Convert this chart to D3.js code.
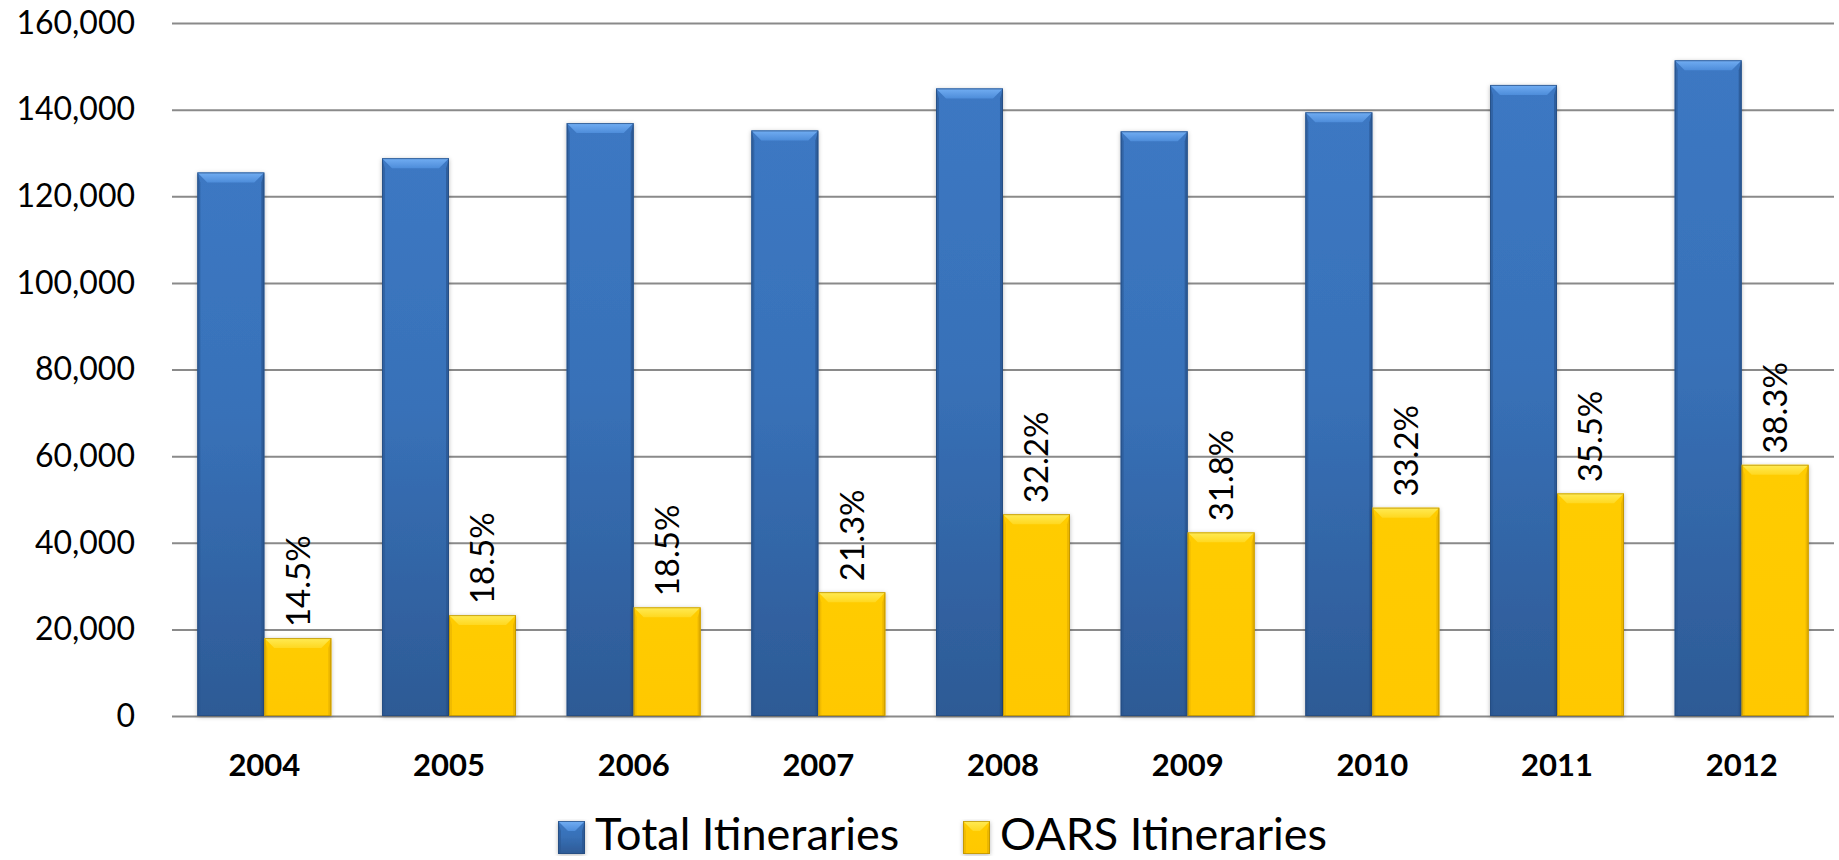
<!DOCTYPE html>
<html>
<head>
<meta charset="utf-8">
<script src="https://cdn.jsdelivr.net/npm/d3@7"></script>
<style>
  html, body { margin: 0; padding: 0; background: #ffffff; }
  svg { display: block; }
  text { font-family: Lato, "Open Sans", "Noto Sans", sans-serif; fill: #000; }
</style>
</head>
<body>
<svg id="chart" width="1839" height="860"></svg>
<script>
// ---- data ----
const years = ["2004", "2005", "2006", "2007", "2008", "2009", "2010", "2011", "2012"];
const totalItineraries = [125500, 128800, 136900, 135200, 144900, 135000, 139400, 145700, 151400];
const oarsItineraries  = [18000, 23300, 25100, 28600, 46600, 42400, 48100, 51400, 58000];
const oarsShareLabels  = ["14.5%", "18.5%", "18.5%", "21.3%", "32.2%", "31.8%", "33.2%", "35.5%", "38.3%"];
const yTickValues = [0, 20000, 40000, 60000, 80000, 100000, 120000, 140000, 160000];
const seriesNames = ["Total Itineraries", "OARS Itineraries"];

// ---- layout ----
const W = 1839, H = 860;
const plot = { left: 172, right: 1834, top: 23, bottom: 716 };

const svg = d3.select("#chart");
const defs = svg.append("defs");

function vGrad(id, stops) {
  const g = defs.append("linearGradient").attr("id", id)
    .attr("x1", 0).attr("y1", 0).attr("x2", 0).attr("y2", 1);
  stops.forEach(([o, c]) => g.append("stop").attr("offset", o).attr("stop-color", c));
}
vGrad("blueBody", [[0, "#3C78C3"], [0.45, "#3871B8"], [1, "#2D5A95"]]);
vGrad("blueTop",  [[0, "#72AEF3"], [1, "#4E8DDA"]]);
vGrad("goldBody", [[0, "#FFCC00"], [1, "#FFC800"]]);
vGrad("goldTop",  [[0, "#FFEB55"], [1, "#FFD820"]]);

const shadow = defs.append("filter").attr("id", "shadow")
  .attr("x", "-20%").attr("y", "-5%").attr("width", "140%").attr("height", "110%");
shadow.append("feDropShadow").attr("dx", 0).attr("dy", 1).attr("stdDeviation", 2)
  .attr("flood-color", "#000").attr("flood-opacity", 0.28);

const styles = {
  "Total Itineraries": { body: "url(#blueBody)", top: "url(#blueTop)", edge: "#24497A", side: "#2A5590" },
  "OARS Itineraries":  { body: "url(#goldBody)", top: "url(#goldTop)", edge: "#B38A00", side: "#E6B000" }
};

// ---- scales ----
const x = d3.scaleBand().domain(years).range([plot.left, plot.right])
  .paddingInner(0.2745).paddingOuter(0.13725);
const xs = d3.scaleBand().domain(seriesNames).range([0, x.bandwidth()]).padding(0);
const y = d3.scaleLinear().domain([0, 160000]).range([plot.bottom, plot.top]);

// ---- gridlines + y axis ----
const yAxis = d3.axisLeft(y).tickValues(yTickValues).tickFormat(d3.format(","))
  .tickSize(-(plot.right - plot.left)).tickPadding(37);
const gy = svg.append("g").attr("transform", `translate(${plot.left},0)`).call(yAxis);
gy.select(".domain").remove();
gy.selectAll(".tick line").attr("stroke", "#8A8A8A").attr("stroke-width", 2);
gy.selectAll(".tick text").attr("font-size", 32).attr("fill", "#000");

// ---- bars ----
const rows = years.map((yr, i) => ({
  year: yr,
  values: [
    { name: seriesNames[0], value: totalItineraries[i] },
    { name: seriesNames[1], value: oarsItineraries[i] }
  ],
  label: oarsShareLabels[i]
}));

function bevelBar(g, bx, by, bw, bh, st) {
  const b = Math.min(10, bh / 2);
  const s = 3;
  g.append("rect").attr("x", bx).attr("y", by).attr("width", bw).attr("height", bh)
    .attr("fill", st.body).attr("filter", "url(#shadow)");
  g.append("polygon").attr("points",
    [[bx, by], [bx + s, by + b], [bx + s, by + bh], [bx, by + bh]].map(p => p.join(",")).join(" "))
    .attr("fill", st.side).attr("opacity", 0.55);
  g.append("polygon").attr("points",
    [[bx + bw, by], [bx + bw - s, by + b], [bx + bw - s, by + bh], [bx + bw, by + bh]].map(p => p.join(",")).join(" "))
    .attr("fill", st.side).attr("opacity", 0.75);
  g.append("polygon").attr("points",
    [[bx, by], [bx + bw, by], [bx + bw - b, by + b], [bx + b, by + b]].map(p => p.join(",")).join(" "))
    .attr("fill", st.top);
  g.append("rect").attr("x", bx + 0.5).attr("y", by + 0.5).attr("width", bw - 1).attr("height", bh - 1)
    .attr("fill", "none").attr("stroke", st.edge).attr("stroke-width", 1).attr("opacity", 0.7);
}

const groups = svg.append("g").selectAll("g").data(rows).join("g")
  .attr("transform", d => `translate(${x(d.year)},0)`);

groups.each(function(d) {
  const g = d3.select(this);
  d.values.forEach(v => {
    const bx = xs(v.name), by = y(v.value), bw = xs.bandwidth(), bh = y(0) - y(v.value);
    bevelBar(g.append("g"), bx, by, bw, bh, styles[v.name]);
  });
  const oars = d.values[1];
  const cx = xs(oars.name) + xs.bandwidth() / 2;
  g.append("text")
    .attr("transform", `translate(${cx},${y(oars.value) - 11}) rotate(-90)`)
    .attr("text-anchor", "start")
    .attr("dy", "0.36em")
    .attr("font-size", 33)
    .text(d.label);
});

// ---- x axis ----
const xAxis = d3.axisBottom(x).tickSize(0).tickPadding(38);
const gx = svg.append("g").attr("transform", `translate(0,${plot.bottom})`).call(xAxis);
gx.select(".domain").remove();
gx.selectAll(".tick text").attr("font-size", 31).attr("font-weight", "bold").attr("fill", "#000");

// ---- legend ----
const legend = svg.append("g");
const legendItems = [
  { name: seriesNames[0], x: 558 },
  { name: seriesNames[1], x: 963 }
];
legendItems.forEach(it => {
  const g = legend.append("g");
  bevelBar(g, it.x, 821, 27, 33, styles[it.name]);
  g.append("text").attr("x", it.x + 37).attr("y", 850)
    .attr("font-size", 45).text(it.name);
});
</script>
</body>
</html>
